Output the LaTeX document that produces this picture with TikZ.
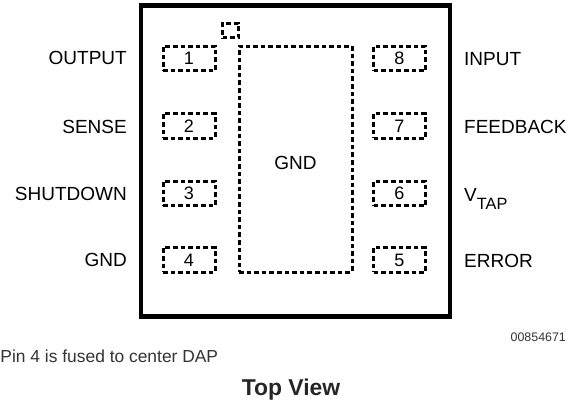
\documentclass[tikz,border=0pt]{standalone}
\usepackage{fontspec}
\setmainfont{Liberation Sans}
\usetikzlibrary{calc}

\begin{document}
\begin{tikzpicture}
[x=1pt,y=-1pt,
pad/.style={draw,line width=3pt,dash pattern=on 4.6pt off 3pt,inner sep=0pt},
pin/.style={pad,minimum width=52pt,minimum height=24.5pt,font=\fontsize{18}{20}\selectfont},
pinname/.style={inner sep=0pt,font=\fontsize{19}{22}\selectfont},
note/.style={inner sep=0pt,text=black!80,anchor=base west},]

\useasboundingbox (0,0) rectangle (582,405);

%Package outline
\node (package) at (295.5,161)[draw,line width=4.5pt,minimum width=309pt,minimum height=311pt,inner sep=0pt] {};

%Exposed pad and corner mark
\node (dap) at (295.5,159)[pad,minimum width=113pt,minimum height=226pt] {};
\node (mark) at (230.5,30.5)[pad,minimum width=16pt,minimum height=14.5pt] {};
\node (dapname) at (295.5,163)[pinname] {GND};

%Left pins
\node (P1) at (189,58.5)[pin] {1};
\node (P2) at (189,126)[pin] {2};
\node (P3) at (189,193.5)[pin] {3};
\node (P4) at (189,260)[pin] {4};

%Right pins
\node (P8) at (399.5,58.5)[pin] {8};
\node (P7) at (399.5,126)[pin] {7};
\node (P6) at (399.5,193.5)[pin] {6};
\node (P5) at (399.5,260)[pin] {5};

%Left pin names
\node (output) at (127,64.7)[pinname,anchor=base east] {OUTPUT};
\node (sense) at (127,133.7)[pinname,anchor=base east] {SENSE};
\node (shutdown) at (127,200.7)[pinname,anchor=base east] {SHUTDOWN};
\node (gnd) at (127,266.5)[pinname,anchor=base east] {GND};

%Right pin names
\node (input) at (464,65.3)[pinname,anchor=base west] {INPUT};
\node (feedback) at (464,133.3)[pinname,anchor=base west] {FEEDBACK};
\node (vtap) at (464,201)[pinname,anchor=base west] {V\raisebox{-8pt}{\fontsize{16.3}{18}\selectfont TAP}};
\node (error) at (464,267.5)[pinname,anchor=base west] {ERROR};

%Notes under the package
\node (fused) at (0.3,362.7)[note,font=\fontsize{17.4}{20}\selectfont] {Pin 4 is fused to center DAP};
\node (partno) at (510.5,341)[note,font=\fontsize{12.4}{15}\selectfont] {00854671};
\node (topview) at (291,395)[anchor=base,inner sep=0pt,text=black!85,font=\fontsize{22.9}{26}\bfseries\selectfont] {Top View};

\end{tikzpicture}
\end{document}
